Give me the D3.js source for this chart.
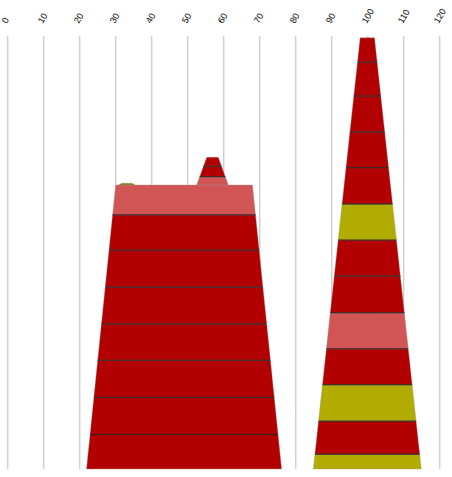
<!DOCTYPE html>
<html>
<head>
<meta charset="utf-8">
<script src="https://cdn.jsdelivr.net/npm/d3@7"></script>
<style>
  body { margin: 0; background: #fff; }
  #chart { width: 452px; height: 477px; }
  .axis text { font-family: "Liberation Sans", Arial, sans-serif; font-size: 9px; fill: #000; }
  .axis line { stroke: #bbb; }
</style>
</head>
<body>
<div id="chart"></div>
<script>
const width = 452;
const height = 477;

const RED = "#b20000";
const PINK = "#d25555";
const OLIVE = "#b3ac00";
const DARKOLIVE = "#857a10";

// x axis ticks
const xTicks = [0, 10, 20, 30, 40, 50, 60, 70, 80, 90, 100, 110, 120];

// towers: centre, which tower it sits on, half width at bottom and top
const towerCenter = [49.1, 57, 33.2, 100];
const towerOn = [null, 0, 0, null];
const towerHalfBottom = [27.1, 4.4, 2.3, 15];
const towerHalfTop = [19, 1.6, 1.4, 2.0];

// segments of each tower, bottom to top
const segValues = [
  [9.6, 10.3, 10.3, 10.1, 10.2, 10.3, 9.8, 8.3],
  [2.3, 2.9, 2.5],
  [0.5],
  [4.1, 9.2, 10.1, 10, 10, 10.2, 10, 10, 10.1, 9.9, 10, 9.4, 6.8]
];
const segColors = [
  [RED, RED, RED, RED, RED, RED, RED, PINK],
  [PINK, RED, RED],
  [DARKOLIVE],
  [OLIVE, RED, OLIVE, RED, PINK, RED, RED, OLIVE, RED, RED, RED, RED, RED]
];

const svg = d3.select("#chart")
  .append("svg")
  .attr("width", width)
  .attr("height", height);

const x = d3.scaleLinear().domain([0, 120]).range([7.3, 439.3]);
const y = d3.scaleLinear().domain([0, 120]).range([469, 37]);

const gridTop = 36;

// axis on top, ticks stretched down as gridlines
const axis = svg.append("g")
  .attr("class", "axis")
  .attr("transform", `translate(0,${gridTop})`)
  .call(d3.axisTop(x).tickValues(xTicks).tickSize(-(y(0) - gridTop)).tickSizeOuter(0));
axis.select(".domain").remove();
axis.selectAll("text")
  .attr("x", 0)
  .attr("y", 0)
  .attr("dy", 0)
  .attr("text-anchor", "start")
  .attr("transform", "translate(-1,-12) rotate(-60)");

// build segment polygons
const polys = [];
const seps = [];
towerCenter.forEach((c, i) => {
  const base = towerOn[i] === null ? 0 : d3.sum(segValues[towerOn[i]]);
  const total = d3.sum(segValues[i]);
  const half = d3.scaleLinear().domain([base, base + total]).range([towerHalfBottom[i], towerHalfTop[i]]);
  let v0 = base;
  segValues[i].forEach((v, j) => {
    const v1 = v0 + v;
    polys.push({
      pts: [
        [x(c - half(v0)), y(v0)],
        [x(c + half(v0)), y(v0)],
        [x(c + half(v1)), y(v1)],
        [x(c - half(v1)), y(v1)]
      ],
      color: segColors[i][j]
    });
    if (j > 0) seps.push({ x0: x(c - half(v0)), x1: x(c + half(v0)), y: y(v0) });
    v0 = v1;
  });
});

const g = svg.append("g");

g.selectAll("polygon")
  .data(polys)
  .enter()
  .append("polygon")
  .attr("points", d => d.pts.map(p => p.join(",")).join(" "))
  .attr("fill", d => d.color)
  .attr("stroke", "#999")
  .attr("stroke-opacity", 0.6)
  .attr("stroke-width", 0.6);

g.selectAll("line.sep")
  .data(seps)
  .enter()
  .append("line")
  .attr("class", "sep")
  .attr("x1", d => d.x0)
  .attr("x2", d => d.x1)
  .attr("y1", d => d.y)
  .attr("y2", d => d.y)
  .attr("stroke", "#222")
  .attr("stroke-width", 1);
</script>
</body>
</html>
